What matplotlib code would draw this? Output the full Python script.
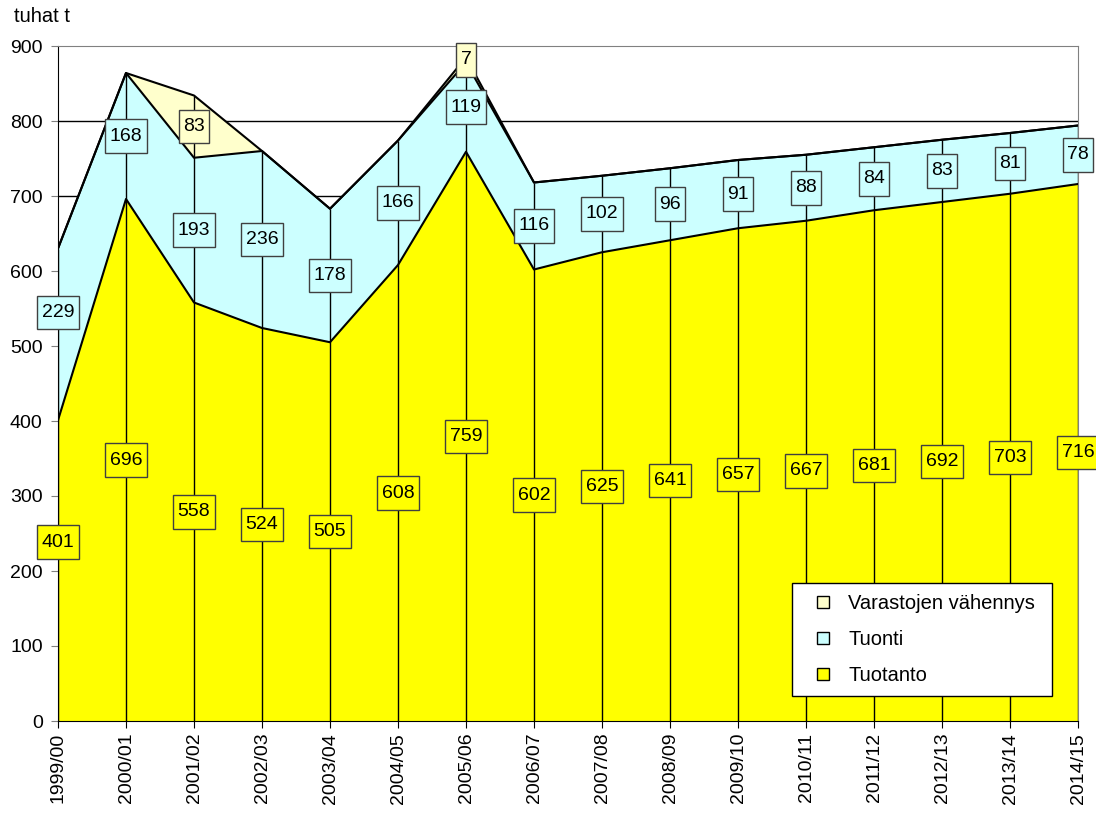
import matplotlib
matplotlib.use("Agg")
import matplotlib.pyplot as plt
from matplotlib.lines import Line2D
from matplotlib.path import Path
import numpy as np

plt.rcParams['font.family'] = ['Liberation Sans', 'DejaVu Sans']

years = ["1999/00", "2000/01", "2001/02", "2002/03", "2003/04", "2004/05", "2005/06",
         "2006/07", "2007/08", "2008/09", "2009/10", "2010/11", "2011/12", "2012/13",
         "2013/14", "2014/15"]
tuotanto = [401, 696, 558, 524, 505, 608, 759, 602, 625, 641, 657, 667, 681, 692, 703, 716]
tuonti = [229, 168, 193, 236, 178, 166, 119, 116, 102, 96, 91, 88, 84, 83, 81, 78]
varastot = [0, 0, 83, 0, 0, 0, 7, 0, 0, 0, 0, 0, 0, 0, 0, 0]

c_tuot = "#FFFF00"
c_tuon = "#CCFFFF"
c_var = "#FFFFCC"

fig = plt.figure(figsize=(10.96, 8.14), dpi=100)
ax = fig.add_axes([58/1096, 93/814, 1020/1096, 675/814])

x = np.arange(len(years))
a = np.array(tuotanto, float)
b = a + np.array(tuonti, float)
c = b + np.array(varastot, float)

for yv in range(100, 900, 100):
    ax.axhline(yv, color="black", lw=1, zorder=0.5)

ax.fill_between(x, 0, a, facecolor=c_tuot, edgecolor="none", zorder=1)
ax.fill_between(x, a, b, facecolor=c_tuon, edgecolor="none", zorder=1)
ax.fill_between(x, b, c, facecolor=c_var, edgecolor="none", zorder=1)
ax.plot(x, a, color="black", lw=1.5, zorder=3)
ax.plot(x, b, color="black", lw=1.5, zorder=3)
ax.plot(x, c, color="black", lw=1.5, zorder=3)
ax.vlines(x, 0, c, color="black", lw=1.0, zorder=2)


def labelbox(x0, y0, width, height, mutation_size):
    px = 0.23 * mutation_size
    py = 0.43 * mutation_size
    x0, y0 = x0 - px, y0 - py
    x1, y1 = x0 + width + 2 * px, y0 + height + 2 * py
    return Path([(x0, y0), (x1, y0), (x1, y1), (x0, y1), (x0, y0)], closed=True)


fs = 14
# Excel nudges the labels of the first category upwards a little
first_shift = {"tuotanto": 38, "tuonti": 29}


def lab(xv, yv, val, col):
    ax.text(xv, yv, str(val), ha="center", va="center", fontsize=fs, zorder=5,
            clip_on=False,
            bbox=dict(boxstyle=labelbox, facecolor=col, edgecolor="#404040", lw=1))


for i in range(len(years)):
    s1 = first_shift["tuotanto"] if i == 0 else 0
    s2 = first_shift["tuonti"] if i == 0 else 0
    lab(x[i], tuotanto[i] / 2 + s1, tuotanto[i], c_tuot)
    lab(x[i], a[i] + tuonti[i] / 2 + s2, tuonti[i], c_tuon)
    if varastot[i] > 0:
        lab(x[i], b[i] + varastot[i] / 2, varastot[i], c_var)

ax.set_xlim(0, len(years) - 1)
ax.set_ylim(0, 900)
ax.set_yticks(range(0, 901, 100))
ax.set_xticks(x)
ax.set_xticklabels(years, rotation=90, fontsize=fs)
ax.tick_params(axis="y", labelsize=fs, length=5, pad=6, color="#808080", direction="out")
ax.tick_params(axis="x", length=5, color="black", direction="out")
for s in ["top", "right"]:
    ax.spines[s].set_color("#808080")
for s in ["left", "bottom"]:
    ax.spines[s].set_color("black")
ax.spines["bottom"].set_zorder(4)

handles = [Line2D([], [], marker="s", ls="none", markersize=8, markerfacecolor=col,
                  markeredgecolor="black") for col in (c_var, c_tuon, c_tuot)]
top = 1 - (583 - 46) / 675
hgt = 111 / 675
leg = ax.legend(handles, ["Varastojen vähennys", "Tuonti", "Tuotanto"],
                loc="upper left", bbox_to_anchor=(734/1020, top - hgt, 260/1020, hgt),
                mode="expand", fontsize=14.5,
                frameon=True, fancybox=False, edgecolor="black", framealpha=1,
                labelspacing=0.85, handlelength=2.0, handletextpad=0.25,
                borderpad=0.55, borderaxespad=0)
leg.get_frame().set_linewidth(1)
leg.set_zorder(6)

fig.text(14/1096, 1 - 17/814, "tuhat t", fontsize=14.5, va="center", ha="left")

fig.savefig("out.png", dpi=100)
